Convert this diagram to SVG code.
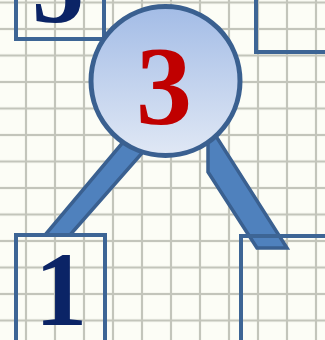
<svg xmlns="http://www.w3.org/2000/svg" width="325" height="340" viewBox="0 0 325 340">
  <defs>
    <pattern id="grid" patternUnits="userSpaceOnUse" x="26" y="2.5" width="29" height="26.5">
      <line x1="0" y1="0" x2="0" y2="26.5" stroke="#c3c5bb" stroke-width="2.2"/>
      <line x1="29" y1="0" x2="29" y2="26.5" stroke="#c3c5bb" stroke-width="2.2"/>
      <line x1="0" y1="0" x2="29" y2="0" stroke="#c3c5bb" stroke-width="2.2"/>
      <line x1="0" y1="26.5" x2="29" y2="26.5" stroke="#c3c5bb" stroke-width="2.2"/>
    </pattern>
    <linearGradient id="circ" x1="0" y1="0" x2="0" y2="1">
      <stop offset="0" stop-color="#a3bce6"/>
      <stop offset="1" stop-color="#e0e8f5"/>
    </linearGradient>
    <style>
      .box { fill: none; stroke: #3d6595; stroke-width: 4; }
      .conn { fill: #4f81bd; stroke: #3a6090; stroke-width: 3.5; stroke-linejoin: miter; }
      .digit { font-family: "Liberation Serif", "Times New Roman", serif; font-weight: bold; text-anchor: middle; }
      .dark { fill: #0b2466; }
      .red { fill: #c00000; }
    </style>
  </defs>
  <rect x="0" y="0" width="325" height="340" fill="#fcfdf6"/>
  <rect x="0" y="0" width="325" height="340" fill="url(#grid)"/>

  <g id="connectors">
    <polygon class="conn" points="124,141 143,152 70,235 45,235"/>
    <polygon class="conn" points="208,138 208,172 257,248 287,248 214,133"/>
  </g>

  <g id="node-top-left">
    <rect class="box" x="16" y="-60" width="88" height="99"/>
    <text class="digit dark" x="58" y="22" font-size="105">5</text>
  </g>

  <g id="node-top-right">
    <rect class="box" x="256" y="-60" width="120" height="112"/>
  </g>

  <g id="node-3">
    <circle cx="165.5" cy="81" r="74.5" fill="url(#circ)" stroke="#3a6090" stroke-width="5"/>
    <text class="digit red" x="164" y="124" font-size="112">3</text>
  </g>

  <g id="node-1">
    <rect class="box" x="16" y="235" width="89" height="150"/>
    <text class="digit dark" x="61" y="325" font-size="105">1</text>
  </g>

  <g id="node-bottom-right">
    <rect class="box" x="241" y="236" width="120" height="150"/>
  </g>
</svg>
